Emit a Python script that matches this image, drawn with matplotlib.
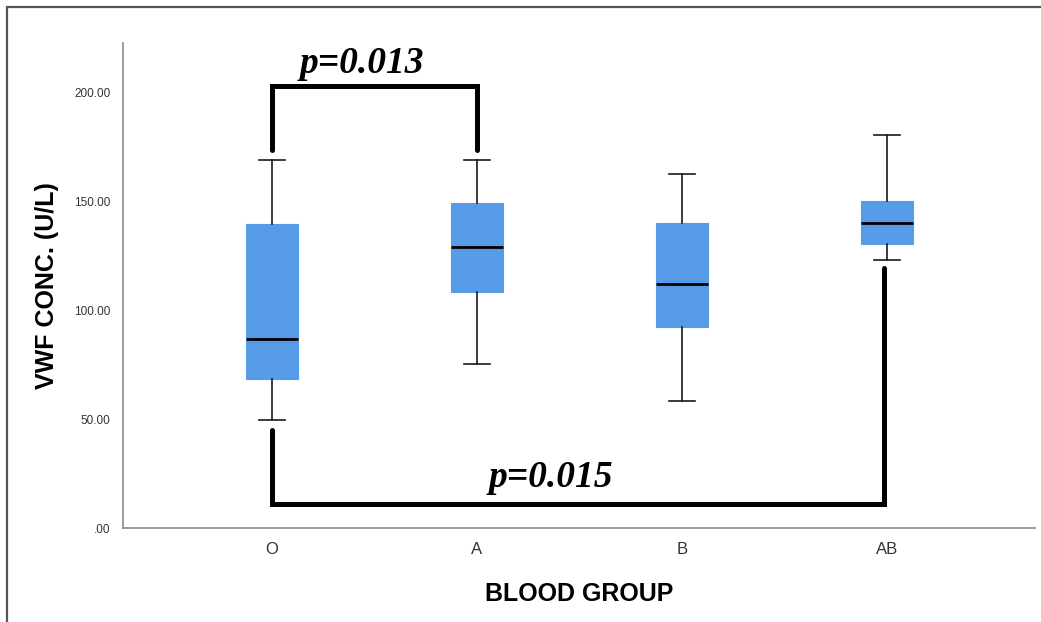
import numpy as np
import matplotlib.pyplot as plt
from matplotlib.patches import Rectangle

groups    = ["O", "A", "B", "AB"]
whisk_lo  = [49.7, 75.4, 58.5, 123.4]
q1        = [68.4, 108.7, 92.6, 130.6]
medians   = [87.0, 129.0, 112.2, 140.4]
q3        = [139.6, 149.6, 140.1, 150.3]
whisk_hi  = [169.2, 169.2, 162.6, 180.7]

y_ticks   = [0, 50, 100, 150, 200]
y_labels  = [".00", "50.00", "100.00", "150.00", "200.00"]

# significance brackets: (left group, right group, bar level, left end, right end, label)
sig_top   = (0, 1, 203.0, 173.8, 173.8, "p=0.013")
sig_bot   = (0, 2.985, 11.0, 45.0, 119.5, "p=0.015")

BOX_COLOR = "#559be8"

fig = plt.figure(figsize=(10.41, 6.22), dpi=100)
fig.patch.set_facecolor("white")
ax = fig.add_axes([0.118, 0.151, 0.876, 0.780])

stats = []
for i, g in enumerate(groups):
    stats.append(dict(label=g, whislo=whisk_lo[i], q1=q1[i], med=medians[i],
                      q3=q3[i], whishi=whisk_hi[i], fliers=[]))

pos = np.arange(len(groups))
ax.bxp(stats, positions=pos, widths=0.25, capwidths=0.127, patch_artist=True,
       showfliers=False,
       boxprops=dict(facecolor=BOX_COLOR, edgecolor=BOX_COLOR, linewidth=0.8),
       medianprops=dict(color="black", linewidth=2.0),
       whiskerprops=dict(color="#1a1a1a", linewidth=1.2),
       capprops=dict(color="#1a1a1a", linewidth=1.2))

# significance brackets
for x0, x1, level, lo0, lo1, label in [sig_top, sig_bot]:
    ax.plot([x0, x0, x1, x1], [lo0, level, level, lo1], color="black",
            linewidth=3.6, solid_capstyle="round", solid_joinstyle="miter")

ax.text(0.437, 209.0, sig_top[5], ha="center", va="baseline", fontsize=27,
        family="Liberation Serif", fontweight="bold", style="italic", color="black")
ax.text(1.359, 18.9, sig_bot[5], ha="center", va="baseline", fontsize=27,
        family="Liberation Serif", fontweight="bold", style="italic", color="black")

ax.set_xlim(-0.727, 3.72)
ax.set_ylim(0, 223)
ax.set_xticks(pos)
ax.set_xticklabels(groups, fontsize=12, color="#333333", family="Liberation Sans")
ax.set_yticks(y_ticks)
ax.set_yticklabels(y_labels, fontsize=8.5, color="#333333", family="Liberation Sans")
ax.tick_params(axis="y", length=0, pad=9)
ax.tick_params(axis="x", length=0, pad=10)

for side in ["top", "right"]:
    ax.spines[side].set_visible(False)
for side in ["left", "bottom"]:
    ax.spines[side].set_color("#8a8a8a")
    ax.spines[side].set_linewidth(1.2)

ax.set_ylabel("VWF CONC. (U/L)", fontsize=18, fontweight="bold",
              family="Liberation Sans", labelpad=11)
ax.set_xlabel("BLOOD GROUP", fontsize=18, fontweight="bold",
              family="Liberation Sans", labelpad=18)

# outer frame (only top and left edges visible in the source image)
fig.patches.append(Rectangle((7 / 1041, -0.05), 1.1, 1 - 7 / 622 + 0.05,
                             transform=fig.transFigure, fill=False,
                             edgecolor="#555555", linewidth=1.6))

fig.savefig("out.png", dpi=100, facecolor=fig.get_facecolor())
